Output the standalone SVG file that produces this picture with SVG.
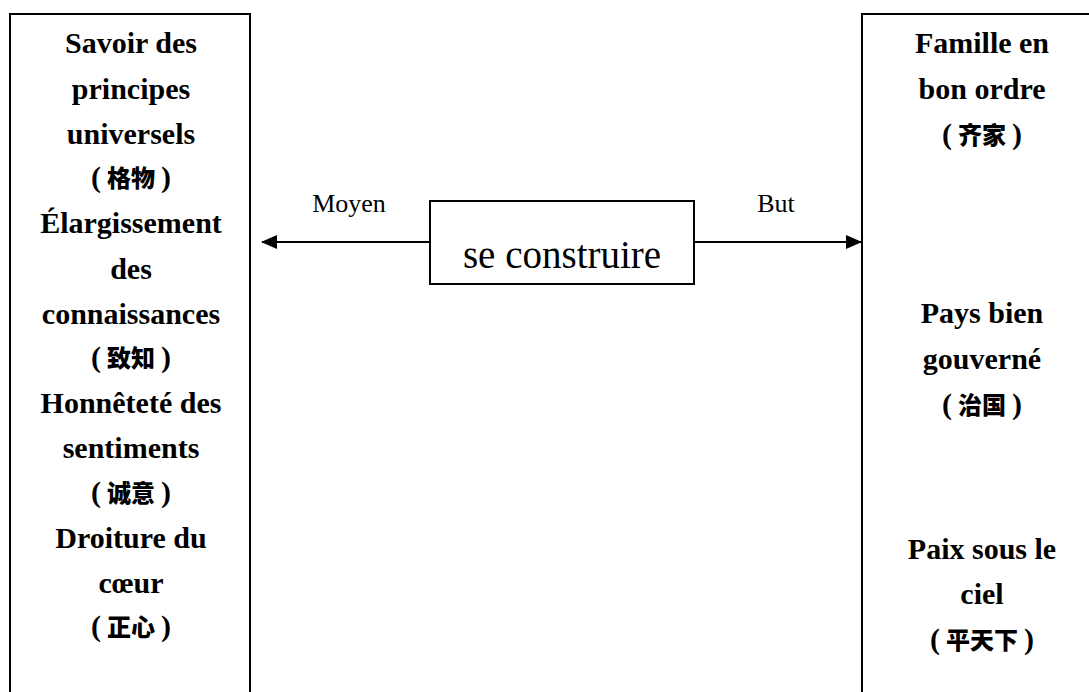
<svg xmlns="http://www.w3.org/2000/svg" width="1089" height="692" viewBox="0 0 1089 692">
<style>
.box{fill:#fff;stroke:#000;stroke-width:2}
.t{font-family:"Liberation Serif","Times New Roman",serif;font-weight:bold;font-size:30px;text-anchor:middle;fill:#000}
.c{font-family:"Noto Sans CJK SC","Liberation Serif",sans-serif;font-weight:900;font-size:24px;text-anchor:middle;fill:#000}
.p{font-family:"Liberation Serif","Times New Roman",serif;font-weight:bold;font-size:30px}
.l{font-family:"Liberation Serif","Times New Roman",serif;font-size:26px;text-anchor:middle;fill:#000}
.m{font-family:"Liberation Serif","Times New Roman",serif;font-size:39px;text-anchor:middle;fill:#000}
.ln{stroke:#000;stroke-width:2;fill:none}
</style>
<defs>
<marker id="ah" markerWidth="16" markerHeight="14" refX="15" refY="7" orient="auto" markerUnits="userSpaceOnUse">
<path d="M0,0 L16,7 L0,14 Z" fill="#000"/>
</marker>
</defs>
<rect width="1089" height="692" fill="#fff"/>
<g id="left">
<rect class="box" x="10" y="14" width="240" height="700"/>
<text class="t" x="131" y="53">Savoir des</text>
<text class="t" x="131" y="99">principes</text>
<text class="t" x="131" y="144">universels</text>
<text class="c" x="131" y="187"><tspan class="p">(</tspan><tspan dx="6">格物</tspan><tspan class="p" dx="6">)</tspan></text>
<text class="t" x="131" y="233">Élargissement</text>
<text class="t" x="131" y="279">des</text>
<text class="t" x="131" y="324">connaissances</text>
<text class="c" x="131" y="367"><tspan class="p">(</tspan><tspan dx="6">致知</tspan><tspan class="p" dx="6">)</tspan></text>
<text class="t" x="131" y="413">Honnêteté des</text>
<text class="t" x="131" y="458">sentiments</text>
<text class="c" x="131" y="502"><tspan class="p">(</tspan><tspan dx="6">诚意</tspan><tspan class="p" dx="6">)</tspan></text>
<text class="t" x="131" y="548">Droiture du</text>
<text class="t" x="131" y="593">cœur</text>
<text class="c" x="131" y="636"><tspan class="p">(</tspan><tspan dx="6">正心</tspan><tspan class="p" dx="6">)</tspan></text>
</g>
<g id="right">
<rect class="box" x="862" y="14" width="240" height="700"/>
<text class="t" x="982" y="53">Famille en</text>
<text class="t" x="982" y="99">bon ordre</text>
<text class="c" x="982" y="144"><tspan class="p">(</tspan><tspan dx="6">齐家</tspan><tspan class="p" dx="6">)</tspan></text>
<text class="t" x="982" y="323">Pays bien</text>
<text class="t" x="982" y="369">gouverné</text>
<text class="c" x="982" y="414"><tspan class="p">(</tspan><tspan dx="6">治国</tspan><tspan class="p" dx="6">)</tspan></text>
<text class="t" x="982" y="559">Paix sous le</text>
<text class="t" x="982" y="604">ciel</text>
<text class="c" x="982" y="649"><tspan class="p">(</tspan><tspan dx="6">平天下</tspan><tspan class="p" dx="6">)</tspan></text>
</g>
<g id="center">
<rect class="box" x="430" y="201" width="264" height="83"/>
<text class="m" x="562" y="268">se construire</text>
</g>
<g id="connectors">
<line class="ln" x1="430" y1="242" x2="262" y2="242" marker-end="url(#ah)"/>
<line class="ln" x1="694" y1="242" x2="861" y2="242" marker-end="url(#ah)"/>
<text class="l" x="349" y="212">Moyen</text>
<text class="l" x="776" y="212">But</text>
</g>
</svg>
